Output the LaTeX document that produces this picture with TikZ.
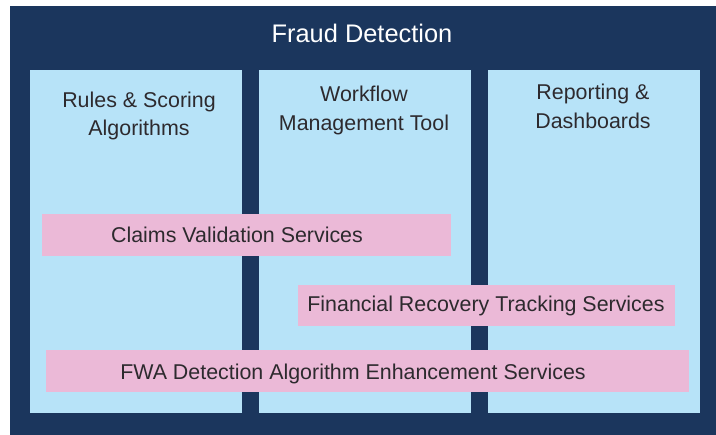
\documentclass[tikz,border=0pt]{standalone}
\usepackage{fontspec}
\setmainfont{Liberation Sans}
\definecolor{navy}{HTML}{1B365D}
\definecolor{paleblue}{HTML}{B7E3F8}
\definecolor{palepink}{HTML}{EBB9D7}
\definecolor{inkgray}{HTML}{2D2A2E}
\begin{document}
\begin{tikzpicture}[x=1pt,y=-1pt,
        lbl/.style={anchor=base,inner sep=0pt,text=inkgray,font=\fontsize{21.4}{26}\selectfont},
        ttl/.style={anchor=base,inner sep=0pt,text=white,font=\fontsize{25.4}{30}\selectfont}]

            \useasboundingbox (0,0) rectangle (716,435);
            \fill[navy] (10,6) rectangle (716,435);
            \node[ttl] (title) at (362,43) {Fraud Detection};
             %columns
                 \foreach \a/\b in {30/242,259/471,488/700}
                     \fill[paleblue] (\a,70) rectangle (\b,413);
                 \node[lbl] (rules1) at (139,108) {Rules \& Scoring};
                 \node[lbl] (rules2) at (139,136) {Algorithms};
                 \node[lbl] (flow1) at (364,102) {Workflow};
                 \node[lbl] (flow2) at (364,131) {Management Tool};
                 \node[lbl] (rep1) at (593,100) {Reporting \&};
                 \node[lbl] (rep2) at (593,129) {Dashboards};
             %services
                 \fill[palepink] (42,214) rectangle (451,256);
                 \node[lbl] (claims) at (237,243) {Claims Validation Services};
                 \fill[palepink] (298,285) rectangle (675,326);
                 \node[lbl] (recovery) at (486,312) {Financial Recovery Tracking Services};
                 \fill[palepink] (46,350) rectangle (689,392);
                 \node[lbl] (fwa) at (353,380) {FWA Detection Algorithm Enhancement Services};
             \end{tikzpicture}
\end{document}
